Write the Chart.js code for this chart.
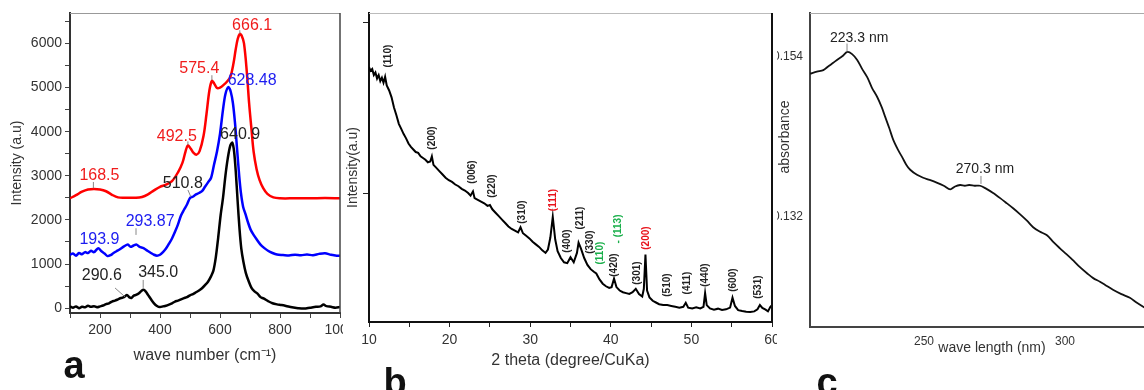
<!DOCTYPE html>
<html>
<head>
<meta charset="utf-8">
<script src="https://cdn.jsdelivr.net/npm/chart.js@4.4.1/dist/chart.umd.min.js"></script>
<style>
  html, body { margin: 0; padding: 0; background: #fff; overflow: hidden; width: 1144px; height: 390px; }
  canvas { position: absolute; top: 0; }
</style>
</head>
<body>
<canvas id="raman" width="343" height="390" style="left:0px"></canvas>
<canvas id="xrd" width="434" height="390" style="left:343px"></canvas>
<canvas id="uv" width="402" height="390" style="left:777px"></canvas>
<script>
// ---------- panel a : Raman spectra ----------
const ramanXTicks = [100,200,300,400,500,600,700,800,900,1000];
const ramanYTicks = [0,500,1000,1500,2000,2500,3000,3500,4000,4500,5000,5500,6000,6500];

const redX = [100,120,140,160,180,200,220,240,260,280, 300,320,340,360,380,400,420,440,460,475,
  485,493,502,512,522,532,545,555,565,573, 580,590,600,612,625,635,645,652,659,666,
  672,680,690,697,705,712,722,732,744,758, 778,800,850,900,950,1000];
const redY = [2490,2560,2640,2690,2700,2690,2650,2570,2510,2500, 2505,2500,2520,2580,2670,2750,2800,2880,3080,3300,
  3550,3690,3620,3520,3480,3560,3900,4400,4950,5150, 5100,4990,5000,5060,5150,5250,5550,5850,6100,6215,
  6180,6000,5300,4650,4050,3550,3150,2900,2720,2590, 2510,2490,2490,2490,2495,2490];

const blueX = [100,110,120,130,140,150,160,170,180,194, 205,215,225,235,245,255,265,280,293,302,
  312,322,332,345,358,370,380,390,400,410, 420,430,440,450,460,470,480,490,500,511,
  520,530,540,550,560,570,580,590,600,610, 618,628,636,643,650,657,664,670,677,685,
  693,702,712,722,735,748,760,775,790,810, 830,850,870,890,910,930,950,970,985,1000];
const blueY = [1207,1240,1190,1250,1220,1270,1250,1300,1270,1360, 1290,1240,1180,1200,1250,1290,1330,1400,1440,1390,
  1420,1440,1390,1360,1300,1250,1210,1190,1210,1270, 1350,1460,1580,1730,1900,2100,2230,2350,2497,2530,
  2580,2610,2650,2750,2850,2950,3250,3550,3950,4500, 4850,5010,4900,4650,4200,3600,3000,2600,2300,2130,
  1950,1780,1660,1560,1440,1360,1300,1250,1215,1205, 1195,1210,1200,1215,1200,1230,1245,1210,1195,1185];

const blackX = [100,110,120,130,140,150,160,170,180,190, 200,210,220,230,240,250,260,270,280,290,
  297,305,312,320,330,338,345,352,360,370, 380,390,400,410,420,430,440,450,460,470,
  480,490,500,510,520,530,540,550,560,570, 578,586,594,602,610,618,626,634,641,647,
  653,659,665,671,678,686,695,705,715,725, 735,745,760,775,790,805,820,840,860,880,
  900,920,935,945,955,970,985,1000];
const blackY = [38,10,40,0,30,20,55,30,45,20, 40,60,90,110,150,170,200,230,250,300,
  250,230,280,300,340,390,415,380,300,200, 110,50,25,40,55,80,110,150,170,200,
  226,250,290,320,360,400,450,520,600,720, 850,1150,1600,2100,2500,3000,3400,3680,3750,3550,
  3050,2400,1800,1350,1050,800,620,460,380,330, 250,220,160,110,85,70,50,20,0,-10,
  10,30,40,80,45,30,10,25];

const ramanPeaks = [
  { text: '666.1', x: 707, y: 6414, color: '#f01c1c' },
  { text: '575.4', x: 531, y: 5440, color: '#f01c1c' },
  { text: '628.48', x: 707, y: 5147, color: '#1c1cf0' },
  { text: '492.5', x: 456, y: 3879, color: '#f01c1c' },
  { text: '640.9', x: 667, y: 3924, color: '#222' },
  { text: '168.5', x: 198, y: 2994, color: '#f01c1c' },
  { text: '510.8', x: 476, y: 2830, color: '#222' },
  { text: '193.9', x: 198, y: 1562, color: '#1c1cf0' },
  { text: '293.87', x: 367, y: 1953, color: '#1c1cf0' },
  { text: '290.6', x: 206, y: 733, color: '#222' },
  { text: '345.0', x: 394, y: 800, color: '#222' }
];
const ramanLeaders = [
  [666, 6300, 666, 6225], [573, 5280, 573, 5170], [493, 3780, 493, 3700],
  [178, 2860, 178, 2720], [493, 2680, 503, 2520], [320, 1811, 320, 1660],
  [250, 458, 283, 258], [344, 640, 344, 460]
];

// ---------- panel b : XRD ----------
const xrdXTicks = [10,15,20,25,30,35,40,45,50,55,60];
const xrdYTicks = [1000, 2000];

const xrdTheta = [10.0,10.2,10.4,10.6,10.8,11.0,11.2,11.4,11.6,11.8,
  12.0,12.2,12.5,12.8,13.1,13.4,13.7,14.0,14.3,14.6,
  14.9,15.2,15.5,15.8,16.1,16.4,16.7,17.0,17.3,17.6,
  17.8,18.0,18.3,18.7,19.1,19.5,19.9,20.3,20.7,21.1,
  21.5,21.9,22.3,22.6,22.9,23.1,23.5,23.9,24.3,24.7,
  25.0,25.3,25.7,26.1,26.5,26.9,27.3,27.7,28.1,28.5,
  28.8,29.1,29.5,29.9,30.3,30.7,31.1,31.5,31.9,32.2,
  32.5,32.8,33.1,33.4,33.8,34.2,34.6,35.0,35.4,35.8,
  36.0,36.3,36.7,37.1,37.5,37.9,38.2,38.6,39.0,39.4,
  39.8,40.1,40.4,40.7,41.1,41.5,41.9,42.3,42.7,43.1,
  43.5,43.9,44.1,44.3,44.5,44.8,45.2,45.6,46.0,46.5,
  47.0,47.5,48.0,48.5,49.0,49.3,49.6,50.1,50.6,51.1,
  51.5,51.7,51.9,52.3,52.8,53.3,53.8,54.3,54.8,55.1,
  55.4,55.8,56.3,56.8,57.3,57.8,58.2,58.5,58.8,59.2,
  59.5,59.8,60.0];
const xrdCounts = [1737,1715,1725,1690,1705,1670,1690,1655,1675,1645,
  1680,1630,1600,1560,1500,1455,1405,1375,1345,1320,
  1290,1270,1255,1240,1235,1215,1205,1195,1180,1185,
  1215,1165,1150,1130,1110,1090,1075,1065,1050,1040,
  1025,1015,1000,985,1010,970,960,950,940,925,
  930,905,885,865,845,825,805,790,780,770,
  800,765,750,735,715,700,685,665,650,670,
  740,860,730,660,620,595,590,625,595,650,
  710,675,620,580,555,540,530,495,470,455,
  445,450,500,450,430,420,415,410,420,440,
  410,395,440,640,430,390,370,360,350,345,
  345,340,335,330,335,358,330,325,332,325,
  335,415,345,325,318,324,316,320,330,388,
  340,315,310,306,305,308,320,345,328,318,
  308,335,345];

const xrdPeaks = [
  { text: '(110)', x: 12.36, y: 1801 }, { text: '(200)', x: 17.84, y: 1322 },
  { text: '(006)', x: 22.81, y: 1123 }, { text: '(220)', x: 25.3, y: 1041 },
  { text: '(310)', x: 29.03, y: 889 }, { text: '(111)', x: 32.89, y: 959, color: '#e8141c' },
  { text: '(400)', x: 34.63, y: 719 }, { text: '(211)', x: 36.24, y: 854 },
  { text: '(330)', x: 37.49, y: 713 }, { text: '(110)', x: 38.73, y: 649, color: '#1aaf4b' },
  { text: '(420)', x: 40.4, y: 579 }, { text: '- (113)', x: 40.97, y: 790, color: '#1aaf4b' },
  { text: '(200)', x: 44.45, y: 737, color: '#e8141c' }, { text: '(301)', x: 43.33, y: 532 },
  { text: '(510)', x: 47.06, y: 462 }, { text: '(411)', x: 49.43, y: 474 },
  { text: '(440)', x: 51.67, y: 520 }, { text: '(600)', x: 55.15, y: 491 },
  { text: '(531)', x: 58.26, y: 450 }
];

// ---------- panel c : UV-vis ----------
const uvXTicks = [250, 300];
const uvYTicks = [0.132, 0.154];

const uvWave = [209.6,212,214.3,216,217.8,219.5,221,222.8,224.5,226.3,
  228,229.9,231.5,233.4,235,236.3,237.7,239.1,240.7,242.3,
  243.7,245.1,247.5,249.7,252,254.7,257,259.3,261,262.8,
  264.5,266,268,269.9,272,274.5,277,279,281.6,284,
  286.5,288.7,291,293.6,296,298.2,300.5,303,305.3,308,
  310,312.4,314.5,317,320,323,325.5,328,331];
const uvAbs = [0.1517,0.1520,0.1522,0.1527,0.1532,0.1537,0.1541,0.1547,0.1544,0.1536,
  0.1524,0.1512,0.1498,0.1485,0.1471,0.1457,0.1442,0.1426,0.1413,0.1402,
  0.1392,0.1385,0.1378,0.1374,0.1371,0.1367,0.1363,0.1358,0.1362,0.1364,
  0.1363,0.1364,0.1363,0.1363,0.1359,0.1353,0.1346,0.1340,0.1332,0.1324,
  0.1315,0.1306,0.1300,0.1295,0.1285,0.1277,0.1269,0.1260,0.1251,0.1242,
  0.1236,0.1231,0.1226,0.1220,0.1214,0.1209,0.1202,0.1196,0.1190];

const uvPeaks = [
  { text: '223.3 nm', x: 227.0, y: 0.15661 },
  { text: '270.3 nm', x: 271.6, y: 0.13860 }
];
const uvLeaders = [[222.7, 0.15585, 222.7, 0.15475], [270.2, 0.13765, 270.2, 0.13655]];

function pts(xs, ys) {
  return xs.map((v, i) => ({ x: v, y: ys[i] }));
}

Chart.defaults.font.family = "'Liberation Sans', Arial, sans-serif";
Chart.defaults.color = '#333';

function overlay(cfg) {
  return {
    id: 'overlay',
    afterDatasetsDraw(chart) {
      const { ctx, chartArea: ca, scales } = chart;
      const xs = scales.x, ys = scales.y;
      ctx.save();
      ctx.lineWidth = 1;
      ctx.strokeStyle = cfg.topColor;
      ctx.beginPath(); ctx.moveTo(ca.left, ca.top + 0.5); ctx.lineTo(ca.right, ca.top + 0.5); ctx.stroke();
      if (cfg.rightColor) {
        ctx.lineWidth = cfg.rightWidth;
        ctx.strokeStyle = cfg.rightColor;
        ctx.beginPath(); ctx.moveTo(ca.right, ca.top); ctx.lineTo(ca.right, ca.bottom); ctx.stroke();
      }
      ctx.strokeStyle = '#888';
      ctx.lineWidth = 1;
      (cfg.leaders || []).forEach(l => {
        ctx.beginPath();
        ctx.moveTo(xs.getPixelForValue(l[0]), ys.getPixelForValue(l[1]));
        ctx.lineTo(xs.getPixelForValue(l[2]), ys.getPixelForValue(l[3]));
        ctx.stroke();
      });
      ctx.font = cfg.font;
      ctx.textAlign = 'center';
      ctx.textBaseline = 'middle';
      cfg.labels.forEach(l => {
        ctx.save();
        ctx.translate(xs.getPixelForValue(l.x), ys.getPixelForValue(l.y));
        if (cfg.rotate) ctx.rotate(-Math.PI / 2);
        ctx.fillStyle = l.color || '#222';
        ctx.fillText(l.text, 0, 0);
        ctx.restore();
      });
      ctx.restore();
    },
    afterDraw(chart) {
      const ctx = chart.ctx;
      ctx.save();
      ctx.fillStyle = '#111';
      ctx.font = "bold 38px 'Liberation Sans', Arial, sans-serif";
      ctx.textAlign = 'center';
      ctx.textBaseline = 'alphabetic';
      ctx.fillText(cfg.letter[0], cfg.letter[1], cfg.letter[2]);
      if (cfg.yTitle) {
        ctx.font = "14px 'Liberation Sans', Arial, sans-serif";
        ctx.fillStyle = '#333';
        ctx.textBaseline = 'middle';
        ctx.translate(cfg.yTitle[1], cfg.yTitle[2]);
        ctx.rotate(-Math.PI / 2);
        ctx.fillText(cfg.yTitle[0], 0, 0);
      }
      ctx.restore();
    }
  };
}

function fixWidth(w) {
  return s => { s.width = w; s.paddingTop = 0; s.paddingBottom = 0; };
}
function fixHeight(h) {
  return s => { s.height = h; s.paddingLeft = 0; s.paddingRight = 0; };
}
function useTicks(values) {
  return s => { s.ticks = values.map(v => ({ value: v })); };
}

const baseOpts = {
  responsive: false,
  animation: false,
  devicePixelRatio: 1,
  elements: { point: { radius: 0 } },
  plugins: { legend: { display: false }, tooltip: { enabled: false } }
};

// panel a
new Chart(document.getElementById('raman'), {
  type: 'line',
  data: {
    datasets: [
      { data: pts(blackX, blackY), borderColor: '#000', borderWidth: 2.5, tension: 0.3 },
      { data: pts(blueX, blueY), borderColor: '#0000ff', borderWidth: 2.5, tension: 0.3 },
      { data: pts(redX, redY), borderColor: '#ff0000', borderWidth: 2.5, tension: 0.35 }
    ]
  },
  options: Object.assign({}, baseOpts, {
    layout: { padding: { top: 13, right: 3, left: 0, bottom: 0 } },
    scales: {
      x: {
        type: 'linear', min: 100, max: 1000,
        afterBuildTicks: useTicks(ramanXTicks),
        afterFit: fixHeight(77),
        ticks: { autoSkip: false, maxRotation: 0, padding: 4, font: { size: 14 }, color: '#333',
          callback: v => (v % 200 === 0 ? String(v) : '') },
        grid: { drawOnChartArea: false, tickLength: 5, color: '#444' },
        border: { color: '#333', width: 2 },
        title: { display: true, text: 'wave number (cm\u207B\u00B9)', font: { size: 16 }, color: '#333',
          padding: { top: 0, bottom: 25 } }
      },
      y: {
        min: -110, max: 6690,
        afterBuildTicks: useTicks(ramanYTicks),
        afterFit: fixWidth(70),
        ticks: { autoSkip: false, padding: 3, font: { size: 14 }, color: '#333',
          callback: v => (v % 1000 === 0 ? String(v) : '') },
        grid: { drawOnChartArea: false, tickLength: 5, color: '#444' },
        border: { color: '#333', width: 2 },
        title: { display: true, text: 'Intensity (a.u)', font: { size: 14 }, color: '#333',
          padding: { top: 8.6, bottom: 0 } }
      }
    }
  }),
  plugins: [overlay({ topColor: '#999', rightColor: '#444', rightWidth: 1.5,
    font: "16px 'Liberation Sans', Arial, sans-serif", labels: ramanPeaks, leaders: ramanLeaders,
    letter: ['a', 74, 378] })]
});

// panel b
new Chart(document.getElementById('xrd'), {
  type: 'line',
  data: {
    datasets: [
      { data: pts(xrdTheta, xrdCounts), borderColor: '#000', borderWidth: 2, tension: 0 }
    ]
  },
  options: Object.assign({}, baseOpts, {
    layout: { padding: { top: 13, right: 5, left: 0, bottom: 0 } },
    scales: {
      x: {
        type: 'linear', min: 10, max: 60,
        afterBuildTicks: useTicks(xrdXTicks),
        afterFit: fixHeight(68),
        ticks: { autoSkip: false, maxRotation: 0, padding: 5, font: { size: 14 }, color: '#333',
          callback: v => (v % 10 === 0 ? String(v) : '') },
        grid: { drawOnChartArea: false, tickLength: 5, color: '#222' },
        border: { color: '#111', width: 2 },
        title: { display: true, text: '2 theta (degree/CuKa)', font: { size: 16 }, color: '#333',
          padding: { top: 0, bottom: 20 } }
      },
      y: {
        min: 246, max: 2053,
        afterBuildTicks: useTicks(xrdYTicks),
        afterFit: fixWidth(26),
        ticks: { autoSkip: false, callback: () => '' },
        grid: { drawOnChartArea: false, tickLength: 6, color: '#222' },
        border: { color: '#111', width: 2 },
        title: { display: true, text: 'Intensity(a.u)', font: { size: 14 }, color: '#333',
          padding: { top: 1.6, bottom: 0 } }
      }
    }
  }),
  plugins: [overlay({ topColor: '#bbb', rightColor: '#111', rightWidth: 2,
    font: "bold 10px 'Liberation Sans', Arial, sans-serif", labels: xrdPeaks, rotate: true,
    letter: ['b', 52, 395] })]
});

// panel c
new Chart(document.getElementById('uv'), {
  type: 'line',
  data: {
    datasets: [
      { data: pts(uvWave, uvAbs), borderColor: '#111', borderWidth: 1.8, tension: 0.3 }
    ]
  },
  options: Object.assign({}, baseOpts, {
    layout: { padding: { top: 13, right: 5, left: 0, bottom: 0 } },
    scales: {
      x: {
        type: 'linear', min: 209.57, max: 338.65,
        afterBuildTicks: useTicks(uvXTicks),
        afterFit: fixHeight(63),
        ticks: { autoSkip: false, maxRotation: 0, padding: 7, font: { size: 12 }, color: '#333' },
        grid: { drawOnChartArea: false, drawTicks: false, color: '#444' },
        border: { color: '#444', width: 2 },
        title: { display: true, text: 'wave length (nm)', font: { size: 14 }, color: '#333',
          padding: { top: 0, bottom: 33.6 } }
      },
      y: {
        min: 0.11688, max: 0.16005,
        afterBuildTicks: useTicks(uvYTicks),
        afterFit: fixWidth(33),
        ticks: { autoSkip: false, padding: 7, font: { size: 12 }, color: '#333',
          callback: v => v.toFixed(3) },
        grid: { drawOnChartArea: false, drawTicks: false, color: '#444' },
        border: { color: '#444', width: 2 }
      }
    }
  }),
  plugins: [overlay({ topColor: '#aaa', rightColor: null,
    font: "14px 'Liberation Sans', Arial, sans-serif", labels: uvPeaks, leaders: uvLeaders,
    letter: ['c', 50, 395], yTitle: ['absorbance', 8, 137] })]
});
</script>
</body>
</html>
